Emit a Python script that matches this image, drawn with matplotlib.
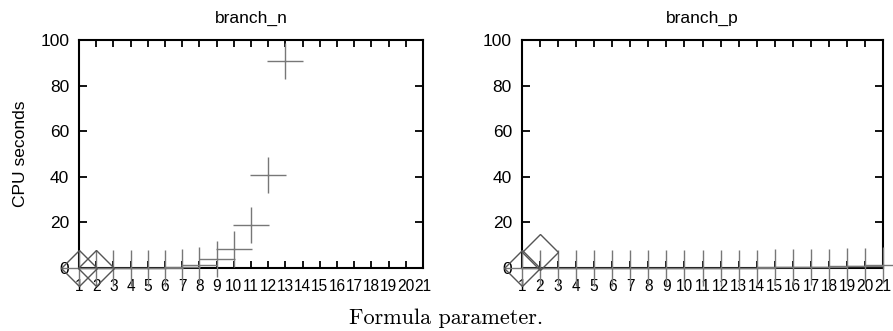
import matplotlib
matplotlib.use("Agg")
import matplotlib.pyplot as plt

# Data
x_params = list(range(1, 22))
tick_labels = [str(v) for v in x_params]

branch_n_plus_x = list(range(1, 14))
branch_n_plus_y = [0, 0, 0, 0, 0, 0.1, 0.5, 1.4, 3.9, 8.4, 18.9, 41, 91]
branch_n_diamond_x = [1, 2]
branch_n_diamond_y = [0, 0]

branch_p_plus_x = list(range(1, 22))
branch_p_plus_y = [0, 0, 0, 0, 0, 0, 0, 0, 0, 0, 0, 0, 0, 0,
                   0.3, 0.4, 0.5, 0.6, 0.8, 1.0, 1.3]
branch_p_diamond_x = [1, 2]
branch_p_diamond_y = [0, 6.8]

titles = ["branch_n", "branch_p"]
ylabel = "CPU seconds"
xlabel = "Formula parameter."
yticks = [0, 20, 40, 60, 80, 100]

sans = "Liberation Sans"
fs = 12.5
fs_x = 11.2

fig = plt.figure(figsize=(8.93, 3.31), dpi=100)
positions = [
    [79 / 893, 1 - 268 / 331, (423 - 79) / 893, (268 - 40) / 331],
    [521.7 / 893, 1 - 268 / 331, (883.3 - 521.7) / 893, (268 - 40) / 331],
]
series = [
    (branch_n_plus_x, branch_n_plus_y, branch_n_diamond_x, branch_n_diamond_y),
    (branch_p_plus_x, branch_p_plus_y, branch_p_diamond_x, branch_p_diamond_y),
]

for i, (pos, (px, py, dx, dy)) in enumerate(zip(positions, series)):
    ax = fig.add_axes(pos)
    ax.set_xlim(1, 21)
    ax.set_ylim(0, 100)
    ax.plot(px, py, linestyle="none", marker="+", markersize=26,
            markeredgewidth=1.0, color="#777777", clip_on=False, zorder=3)
    ax.plot(dx, dy, linestyle="none", marker="D", markersize=18,
            markeredgewidth=1.0, markerfacecolor="none",
            markeredgecolor="#555555", clip_on=False, zorder=3)
    ax.set_xticks(x_params)
    ax.set_xticklabels(tick_labels, family=sans, fontsize=fs_x)
    ax.set_yticks(yticks)
    ax.set_yticklabels([str(v) for v in yticks], family=sans, fontsize=fs)
    ax.tick_params(axis="both", direction="in", top=True, right=True,
                   width=1.3, color="black")
    ax.tick_params(axis="x", length=5, pad=8)
    ax.tick_params(axis="y", length=6, pad=7)
    for sp in ax.spines.values():
        sp.set_linewidth(1.5)
        sp.set_zorder(2)
    ax.set_title(titles[i], family=sans, fontsize=fs, pad=12)
    if i == 0:
        ax.set_ylabel(ylabel, family=sans, fontsize=fs, labelpad=9)

fig.text(446 / 893, 1 - 318 / 331, xlabel, family="cmr10", fontsize=16,
         ha="center", va="center")

fig.savefig("out.png", dpi=100)
